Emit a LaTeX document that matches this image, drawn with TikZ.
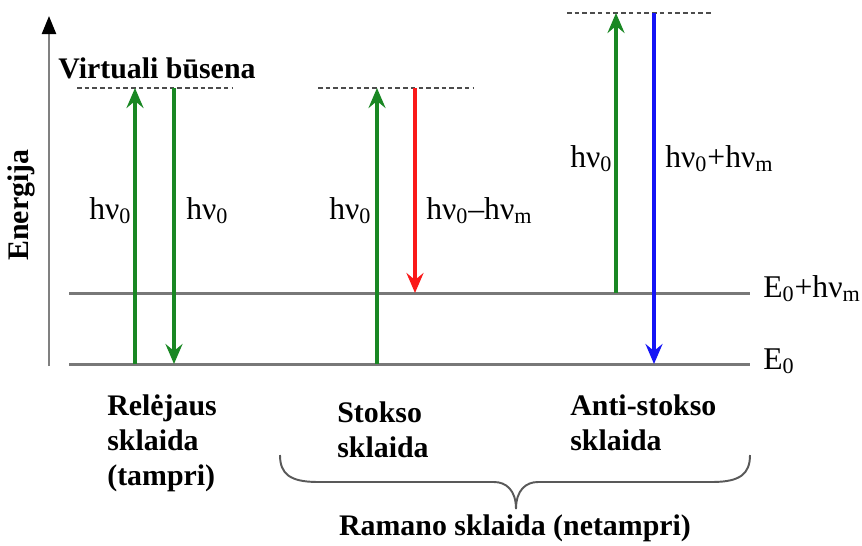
\documentclass[tikz,border=0pt]{standalone}
\usepackage{fontspec}
\setmainfont{Liberation Serif}
\newfontfamily\tmsfont{Liberation Serif}
\usepackage{xcolor}
\usepackage{tikz}
\usetikzlibrary{arrows.meta}

\definecolor{grnarr}{RGB}{25,135,35}
\definecolor{redarr}{RGB}{250,25,25}
\definecolor{bluarr}{RGB}{20,20,245}
\definecolor{levgray}{RGB}{120,120,120}

\tikzset{
  level/.style={levgray, line width=1.7pt},
  virt/.style={black!70, line width=0.9pt, dash pattern=on 2.6pt off 1.8pt},
  photon/.style={line width=1.9pt, -{Stealth[length=4mm,width=3.4mm,inset=1.4mm]}},
  lbl/.style={font=\tmsfont\fontsize{18}{21}\selectfont, inner sep=0pt},
  bold/.style={font=\tmsfont\fontsize{17}{20}\selectfont\bfseries, inner sep=0pt, align=left},
}

\begin{document}
\begin{tikzpicture}[x=0.02cm, y=-0.02cm]
  \useasboundingbox (0,0) rectangle (862,545);

  % energijos asis
  \coordinate (axb) at (49,366);
  \coordinate (axt) at (49,16);
  \draw[black!50, line width=1.3pt, -{Triangle[length=3.6mm,width=2.8mm,color=black]}] (axb) -- (axt);
  \node[bold, rotate=90] (en) at (21,205) {Energija};

  % lygmenys
  \coordinate (g0) at (69,364);  \coordinate (g1) at (750,364);
  \coordinate (k0) at (69,293);  \coordinate (k1) at (750,293);
  \draw[level] (g0) -- (g1);
  \draw[level] (k0) -- (k1);
  \node[lbl, anchor=base west] (lg) at (763,369) {E\textsubscript{0}};
  \node[lbl, anchor=base west] (lk) at (763,297) {E\textsubscript{0}+hν\textsubscript{m}};

  % virtualios busenos
  \coordinate (d1a) at (77,88);   \coordinate (d1b) at (232,88);
  \coordinate (d2a) at (318,88);  \coordinate (d2b) at (473,88);
  \coordinate (d3a) at (567,13);  \coordinate (d3b) at (712,13);
  \draw[virt] (d1a) -- (d1b);
  \draw[virt] (d2a) -- (d2b);
  \draw[virt] (d3a) -- (d3b);
  \node[bold, anchor=base west] (vb) at (58,78) {Virtuali būsena};

  % Relėjaus sklaida
  \coordinate (r1) at (135,364);  \coordinate (r2) at (135,88);
  \coordinate (r3) at (174,88);   \coordinate (r4) at (174,364);
  \draw[photon, grnarr] (r1) -- (r2);
  \draw[photon, grnarr] (r3) -- (r4);
  \node[lbl, anchor=base west] (hr1) at (89,219) {hν\textsubscript{0}};
  \node[lbl, anchor=base west] (hr2) at (186,219) {hν\textsubscript{0}};

  % Stokso sklaida
  \coordinate (s1) at (377,364);  \coordinate (s2) at (377,88);
  \coordinate (s3) at (415,88);   \coordinate (s4) at (415,293);
  \draw[photon, grnarr] (s1) -- (s2);
  \draw[photon, redarr] (s3) -- (s4);
  \node[lbl, anchor=base west] (hs1) at (329,219) {hν\textsubscript{0}};
  \node[lbl, anchor=base west] (hs2) at (426,219) {hν\textsubscript{0}–hν\textsubscript{m}};

  % Anti-stokso sklaida
  \coordinate (a1) at (616,293);  \coordinate (a2) at (616,13);
  \coordinate (a3) at (654,13);   \coordinate (a4) at (654,364);
  \draw[photon, grnarr] (a1) -- (a2);
  \draw[photon, bluarr] (a3) -- (a4);
  \node[lbl, anchor=base west] (ha1) at (570,167) {hν\textsubscript{0}};
  \node[lbl, anchor=base west] (ha2) at (665,167) {hν\textsubscript{0}+hν\textsubscript{m}};

  % pavadinimai
  \node[bold, anchor=north west] (rel) at (107,394) {Relėjaus\\sklaida\\(tampri)};
  \node[bold, anchor=north west] (sto) at (337,401) {Stokso\\sklaida};
  \node[bold, anchor=north west] (ast) at (570,394) {Anti-stokso\\sklaida};

  % riestinis skliaustas
  \coordinate (b1) at (280,455);  \coordinate (b2) at (750,455);
  \coordinate (bt) at (516,509);
  \draw[black!65, line width=1.1pt]
    (b1) .. controls (280,474) and (290,482) .. (318,482) -- (494,482)
    .. controls (506,482) and (516,490) .. (bt)
    .. controls (516,490) and (526,482) .. (538,482) -- (712,482)
    .. controls (740,482) and (750,474) .. (b2);
  \node[bold] (ram) at (515,528) {Ramano sklaida (netampri)};
\end{tikzpicture}
\end{document}
